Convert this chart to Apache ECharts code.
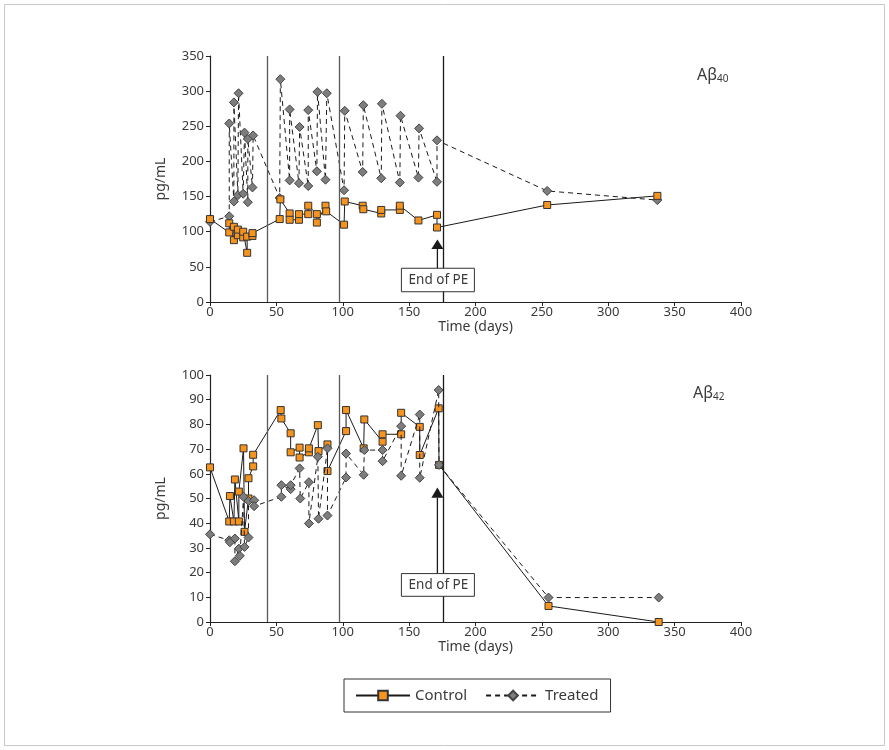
<!DOCTYPE html>
<html>
<head>
<meta charset="utf-8">
<title>Aβ40 and Aβ42 plasma levels over time</title>
<script src="https://cdn.jsdelivr.net/npm/echarts@6/dist/echarts.min.js"></script>
<style>
  html, body { margin: 0; padding: 0; background: #fff; }
  #chart { width: 889px; height: 750px; }
</style>
</head>
<body>
<div id="chart"></div>
<script>
// Aβ40 panel: sampling day and concentration (pg/mL), in drawing order
const ab40ControlDays = [0, 14.5, 14.5, 18, 18, 21, 21, 25, 25, 28, 28, 32, 32, 52.5, 53, 60, 60, 67, 67, 74, 74, 80.5, 80.5, 87, 87.5, 101, 101.5, 115, 115.5, 129, 129, 143, 143, 157, 171, 171, 254, 337];
const ab40Control     = [118, 99, 112, 88, 107, 95, 103, 92, 100, 70, 93, 94, 98, 118, 146, 126, 117, 117, 125, 125, 137, 125, 113, 137, 129, 110, 143, 137, 132, 126, 131, 131, 137, 116, 124, 106, 138, 151];
const ab40TreatedDays = [0, 14.5, 14.5, 18, 18, 21, 21.5, 25, 26, 28.5, 28.5, 32, 32.5, 52.5, 53, 60, 60, 67, 67.5, 74, 74, 80.5, 81, 87, 88, 101, 101.5, 115, 115.5, 129, 129.5, 143, 143.5, 157, 157.5, 171, 171, 254, 337];
const ab40Treated     = [114, 122, 254, 143, 284, 152, 297, 154, 241, 142, 232, 163, 237, 148, 317, 173, 274, 169, 249, 165, 273, 186, 299, 174, 297, 159, 272, 185, 280, 176, 282, 170, 265, 177, 247, 171, 230, 158, 145];

// Aβ42 panel
const ab42ControlDays = [0, 14.5, 15, 18, 18.75, 21.75, 21.75, 25.25, 26, 29, 29, 32.5, 32.5, 53.25, 53.75, 60.75, 60.75, 67.5, 67.5, 74.5, 74.5, 81.25, 81.75, 88.5, 88.5, 102.5, 102.5, 115.75, 116.25, 130, 130, 144, 144, 158, 158, 172.25, 172.5, 255, 338];
const ab42Control     = [62.6, 40.7, 51, 40.7, 57.7, 40.7, 52.8, 70.3, 36.5, 50, 58.2, 63, 67.7, 85.8, 82.4, 76.4, 68.7, 70.6, 66.6, 68.7, 70.3, 79.7, 69.2, 71.9, 61.1, 77.3, 85.8, 70.3, 82, 73, 76, 76, 84.7, 79, 67.6, 86.5, 63.6, 6.5, 0];
const ab42TreatedDays = [0, 14.5, 15, 18.75, 18.75, 21.75, 22.5, 25.25, 26, 29, 29, 33.25, 33.25, 53.75, 53.75, 60.75, 60.75, 67.5, 68, 74.5, 74.5, 81.25, 81.75, 88.5, 88.5, 102.5, 102.5, 115.75, 116.25, 130, 130, 144, 144, 158, 158, 172.25, 172.5, 255, 338];
const ab42Treated     = [35.5, 33.1, 32.3, 33.8, 24.6, 29.7, 26.8, 50.7, 30.4, 34.2, 49, 49.3, 46.9, 50.7, 55.4, 53.8, 55.4, 62.2, 50, 56.6, 39.9, 66.9, 41.8, 70.3, 43.1, 58.5, 68.2, 59.6, 69.6, 69.6, 65.1, 79.3, 59.2, 84, 58.4, 93.9, 63.6, 9.9, 9.9];

// Phase boundaries (days) and the end-of-plasma-exchange marker
const phaseBoundaries = [43.5, 97.4, 175.8];
const endOfPEDay = 171.3;
const ab40Arrow = { tip: 89, base: 75.5, boxTop: 48, boxBottom: 14.6 };
const ab42Arrow = { tip: 54.5, base: 50.3, boxTop: 19.6, boxBottom: 10.4 };

const FONT = 'Noto Sans';
const TEXT = '#3a3a3a';
const ORANGE = '#f7941d';
const GREY = '#7d7d7d';

const zip = (xs, ys) => xs.map((x, i) => [x, ys[i]]);

const chart = echarts.init(document.getElementById('chart'), null, { renderer: 'canvas' });

function xAxisFor(gridIndex) {
  return {
    gridIndex, type: 'value', min: 0, max: 400, interval: 50,
    name: 'Time (days)', nameLocation: 'middle', nameGap: 14,
    nameTextStyle: { fontFamily: FONT, fontSize: 14, color: TEXT },
    axisLine: { show: true, onZero: false, lineStyle: { color: '#222', width: 1.2 } },
    axisTick: { show: true, length: 4, lineStyle: { color: '#222' } },
    axisLabel: { fontFamily: FONT, fontSize: 13, color: TEXT, margin: 4 },
    splitLine: { show: false }
  };
}
function yAxisFor(gridIndex, max, interval) {
  return {
    gridIndex, type: 'value', min: 0, max, interval,
    name: 'pg/mL', nameLocation: 'middle', nameGap: 42,
    nameTextStyle: { fontFamily: FONT, fontSize: 14, color: TEXT },
    axisLine: { show: true, lineStyle: { color: '#222', width: 1.2 } },
    axisTick: { show: true, length: 4, lineStyle: { color: '#222' } },
    axisLabel: { fontFamily: FONT, fontSize: 13, color: TEXT, margin: 6 },
    splitLine: { show: false }
  };
}

const boundaryLines = {
  silent: true, symbol: 'none', label: { show: false },
  data: phaseBoundaries.map((d, i) => ({
    xAxis: d,
    lineStyle: { type: 'solid', width: 1.3, color: i < 2 ? '#5a5a5a' : '#1a1a1a' }
  }))
};

function controlSeries(idx, data, extra) {
  return Object.assign({
    name: 'Control', type: 'line', xAxisIndex: idx, yAxisIndex: idx,
    data, symbol: 'rect', symbolSize: 7,
    itemStyle: { color: ORANGE, borderColor: '#333', borderWidth: 1 },
    lineStyle: { color: '#1a1a1a', width: 1, type: 'solid' },
    emphasis: { disabled: true }, animation: false
  }, extra || {});
}
function treatedSeries(idx, data, extra) {
  return Object.assign({
    name: 'Treated', type: 'line', xAxisIndex: idx, yAxisIndex: idx,
    data, symbol: 'diamond', symbolSize: 9,
    itemStyle: { color: GREY, borderColor: '#444', borderWidth: 1 },
    lineStyle: { color: '#1a1a1a', width: 1, type: [5, 4] },
    emphasis: { disabled: true }, animation: false
  }, extra || {});
}

chart.setOption({
  animation: false,
  backgroundColor: '#fff',
  grid: [
    { left: 210, top: 56, width: 531, height: 246 },
    { left: 210, top: 375, width: 531, height: 247 }
  ],
  xAxis: [xAxisFor(0), xAxisFor(1)],
  yAxis: [yAxisFor(0, 350, 50), yAxisFor(1, 100, 10)],
  legend: {
    data: ['Control', 'Treated'],
    left: 344, top: 679,
    orient: 'horizontal',
    itemWidth: 54, itemHeight: 12, itemGap: 18,
    padding: [9, 12, 9, 11],
    borderColor: '#333', borderWidth: 1, borderRadius: 0,
    textStyle: { fontFamily: FONT, fontSize: 15, color: TEXT },
    selectedMode: false
  },
  series: [
    treatedSeries(0, zip(ab40TreatedDays, ab40Treated), { z: 2 }),
    controlSeries(0, zip(ab40ControlDays, ab40Control), { z: 3, markLine: boundaryLines }),
    controlSeries(1, zip(ab42ControlDays, ab42Control), { z: 2, markLine: boundaryLines }),
    treatedSeries(1, zip(ab42TreatedDays, ab42Treated), { z: 3 })
  ]
});

// Annotations placed through the axes' own coordinate conversion
function annotation(gridIndex, a, label) {
  const px = (v) => chart.convertToPixel({ xAxisIndex: gridIndex, yAxisIndex: gridIndex }, [endOfPEDay, v]);
  const tip = px(a.tip), base = px(a.base), top = px(a.boxTop), bottom = px(a.boxBottom);
  const x = tip[0];
  const boxW = 73;
  return [
    { type: 'polygon', z: 20, shape: { points: [[x, tip[1]], [x - 6, base[1]], [x + 6, base[1]]] },
      style: { fill: '#1a1a1a' } },
    { type: 'line', z: 20, shape: { x1: x, y1: base[1], x2: x, y2: top[1] },
      style: { stroke: '#1a1a1a', lineWidth: 1.3 } },
    { type: 'rect', z: 20, shape: { x: x - boxW / 2 + 0.5, y: top[1], width: boxW, height: bottom[1] - top[1] },
      style: { fill: '#fff', stroke: '#333', lineWidth: 1 } },
    { type: 'text', z: 21, style: { text: label, x: x + 1, y: (top[1] + bottom[1]) / 2,
      align: 'center', verticalAlign: 'middle', fontFamily: FONT, fontSize: 13.5, fill: TEXT } }
  ];
}
function panelTitle(x, y, sub) {
  return [
    { type: 'text', style: { text: 'Aβ', x, y, align: 'left', verticalAlign: 'middle',
      fontFamily: FONT, fontSize: 16, fill: TEXT } },
    { type: 'text', style: { text: sub, x: x + 20, y: y + 4, align: 'left', verticalAlign: 'middle',
      fontFamily: FONT, fontSize: 10, fill: TEXT } }
  ];
}

chart.setOption({
  graphic: [
    { type: 'rect', silent: true, shape: { x: 4.5, y: 4.5, width: 880, height: 741 },
      style: { fill: 'none', stroke: '#c8c8c8', lineWidth: 1 } },
    ...annotation(0, ab40Arrow, 'End of PE'),
    ...annotation(1, ab42Arrow, 'End of PE'),
    ...panelTitle(697, 75, '40'),
    ...panelTitle(693, 393, '42')
  ]
});
</script>
</body>
</html>
